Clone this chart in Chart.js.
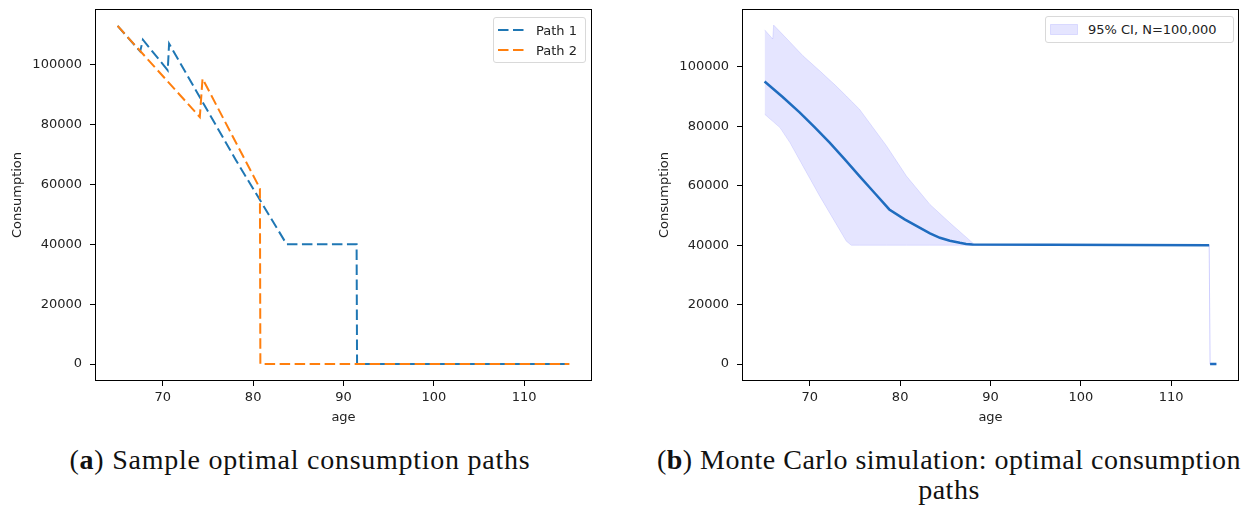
<!DOCTYPE html>
<html>
<head>
<meta charset="utf-8">
<script src="https://cdn.jsdelivr.net/npm/chart.js@4/dist/chart.umd.min.js"></script>
<style>
  body { margin: 0; background: #fff; width: 1246px; height: 506px; overflow: hidden; position: relative; }
  canvas { position: absolute; top: 0; }
  #left { left: 0; }
  #right { left: 647px; }
  .legend { position: absolute; background: #fff; border: 1px solid #d9d9d9; border-radius: 3px;
            font: 13px "DejaVu Sans", sans-serif; color: #222; }
  .legend .row { position: absolute; left: 0; height: 16px; display: flex; align-items: center; }
  .legend svg { margin-left: 4px; margin-right: 10px; }
  .caption { position: absolute; font-family: "Liberation Serif", serif; font-size: 28px; color: #111;
             text-align: center; line-height: 30px; letter-spacing: 0.75px; white-space: nowrap; }
</style>
</head>
<body>
<canvas id="left" width="610" height="440"></canvas>
<canvas id="right" width="599" height="440"></canvas>

<div class="legend" style="left:493px; top:17px; width:91px; height:44px;">
  <div class="row" style="top:4px;"><svg width="28" height="4"><line x1="0" y1="2" x2="28" y2="2" stroke="#1f77b4" stroke-width="2" stroke-dasharray="10.5 4.5"/></svg>Path 1</div>
  <div class="row" style="top:24px;"><svg width="28" height="4"><line x1="0" y1="2" x2="28" y2="2" stroke="#ff7f0e" stroke-width="2" stroke-dasharray="10.5 4.5"/></svg>Path 2</div>
</div>
<div class="legend" style="left:1045px; top:16px; width:187px; height:25px;">
  <div class="row" style="top:4px;"><svg width="28" height="11"><rect x="0.5" y="0.5" width="27" height="10" fill="rgba(0,0,255,0.1)" stroke="rgba(0,0,255,0.1)"/></svg>95% CI, N=100,000</div>
</div>

<div class="caption" style="left:0; width:600px; top:445px;">(<b>a</b>) Sample optimal consumption paths</div>
<div class="caption" style="left:599px; width:700px; top:445px; letter-spacing:0.5px;">(<b>b</b>) Monte Carlo simulation: optimal consumption<br>paths</div>

<script>
const xTicks = [70, 80, 90, 100, 110];
const yTicks = [0, 20000, 40000, 60000, 80000, 100000];

// (a) two sample paths
const path1Ages = [65, 67.5, 67.8, 70.55, 70.7, 78.1, 83.7, 91.45, 91.5, 115];
const path1Values = [112800, 104300, 108200, 98000, 106900, 68000, 40000, 40000, 0, 0];
const path2Ages = [65, 74.1, 74.4, 80.75, 80.8, 115];
const path2Values = [112800, 82400, 95200, 58600, 0, 0];

// (b) monte carlo mean and 95% band
const ciAges = [65, 65.9, 66.0, 66.7, 67.8, 69.25, 71.1, 72.9, 74.05, 74.6, 75.5, 78.5, 80.7, 83.3, 85.5, 88.25, 114.2, 114.3, 115];
const ciUpper = [112500, 109400, 114100, 111900, 108400, 103750, 98700, 93640, 90200, 88500, 85780, 73400, 63280, 53730, 47560, 40200, 40000, 0, 0];
const ciLower = [84100, 81700, 81450, 79600, 74540, 66600, 56530, 47270, 41350, 40000, 40000, 40000, 40000, 40000, 40000, 40000, 40000, 0, 0];
const meanAges = [65, 67, 68.9, 70.5, 72.2, 73.8, 75.5, 77.2, 78.8, 80.5, 82.2, 83.3, 84.4, 85.5, 86.6, 87.3, 88.0, 114.2, 114.25, 114.3, 115];
const meanValues = [95100, 89900, 84660, 79860, 74540, 69180, 63280, 57500, 52050, 48700, 45870, 44000, 42500, 41500, 40810, 40450, 40240, 40000, null, 0, 0];

const toPoints = (xs, ys) => xs.map((x, i) => ({ x, y: ys[i] }));

const tickFont = { family: "DejaVu Sans", size: 13 };

const frame = {
  id: 'frame',
  afterDraw(chart) {
    const { ctx, chartArea: a } = chart;
    ctx.save();
    ctx.strokeStyle = '#000';
    ctx.lineWidth = 1;
    ctx.strokeRect(a.left + 0.5, a.top + 0.5, a.right - a.left - 1, a.bottom - a.top - 1);
    ctx.restore();
  }
};

function makeScales(yMin, yMax) {
  return {
    x: {
      type: 'linear', min: 62.5, max: 117.5,
      afterBuildTicks: s => { s.ticks = xTicks.map(v => ({ value: v })); },
      afterFit: s => { s.height = 59; s.paddingLeft = 0; s.paddingRight = 0; },
      border: { display: false },
      grid: { drawOnChartArea: false, drawTicks: true, tickLength: 5, tickColor: '#000' },
      ticks: { autoSkip: false, maxRotation: 0, padding: 4, color: '#222', font: tickFont, callback: v => String(v) },
      title: { display: true, text: 'age', color: '#222', font: tickFont, padding: { top: 0, bottom: 15 } }
    },
    y: {
      type: 'linear', min: yMin, max: yMax,
      afterBuildTicks: s => { s.ticks = yTicks.map(v => ({ value: v })); },
      afterFit: s => { s.width = 95; s.paddingTop = 0; s.paddingBottom = 0; },
      border: { display: false },
      grid: { drawOnChartArea: false, drawTicks: true, tickLength: 5, tickColor: '#000' },
      ticks: { autoSkip: false, padding: 8, color: '#222', font: tickFont, callback: v => String(v) },
      title: { display: true, text: 'Consumption', color: '#222', font: tickFont, padding: { top: 10, bottom: 0 } }
    }
  };
}

const baseOptions = (yMin, yMax, rightPad) => ({
  responsive: false,
  animation: false,
  layout: { padding: { top: 9, right: rightPad, left: 0, bottom: 0 } },
  plugins: { legend: { display: false }, tooltip: { enabled: false } },
  elements: { point: { radius: 0 }, line: { tension: 0 } },
  scales: makeScales(yMin, yMax)
});

new Chart(document.getElementById('left'), {
  type: 'line',
  data: {
    datasets: [
      { label: 'Path 2', data: toPoints(path2Ages, path2Values), borderColor: '#ff7f0e', borderWidth: 2, borderDash: [10.5, 4.5], fill: false },
      { label: 'Path 1', data: toPoints(path1Ages, path1Values), borderColor: '#1f77b4', borderWidth: 2, borderDash: [10.5, 4.5], fill: false }
    ]
  },
  options: baseOptions(-5640, 118440, 18),
  plugins: [frame]
});

new Chart(document.getElementById('right'), {
  type: 'line',
  data: {
    datasets: [
      { label: 'mean', data: toPoints(meanAges, meanValues), borderColor: '#1f6cbf', borderWidth: 2.5, fill: false, spanGaps: false },
      { label: '95% CI, N=100,000', data: toPoints(ciAges, ciUpper), borderColor: 'rgba(0,0,255,0.1)', borderWidth: 1, backgroundColor: 'rgba(0,0,255,0.1)', fill: '+1' },
      { label: 'lower', data: toPoints(ciAges, ciLower), borderColor: 'rgba(0,0,255,0.1)', borderWidth: 1, fill: false }
    ]
  },
  options: baseOptions(-5680, 119500, 7),
  plugins: [frame]
});
</script>
</body>
</html>
